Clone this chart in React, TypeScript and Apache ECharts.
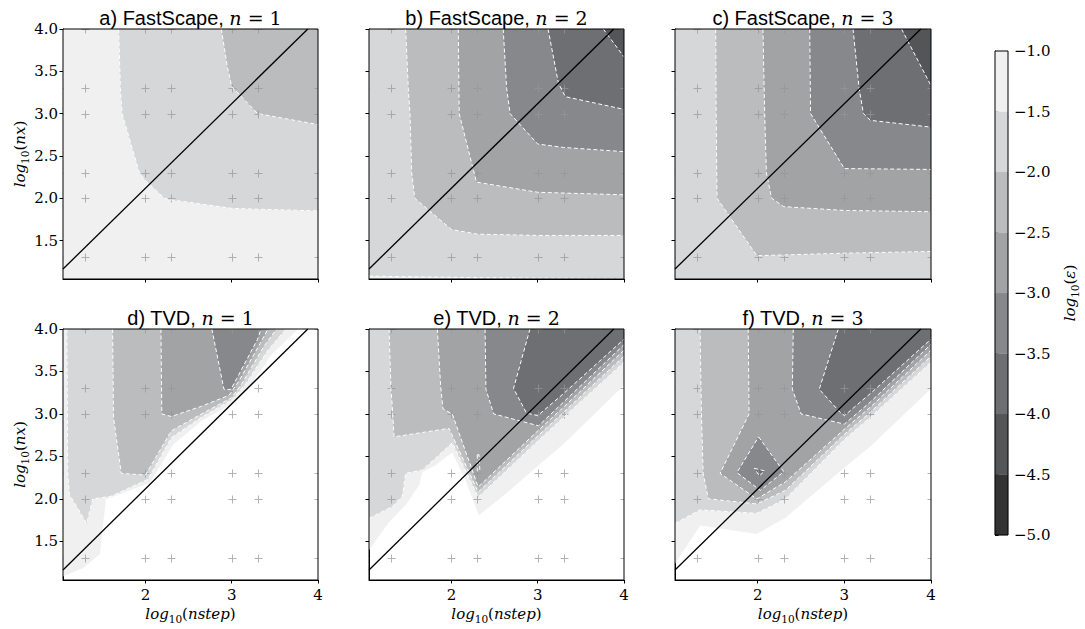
import React, { useEffect, useRef } from "react";
import * as echarts from "echarts";

type Pt = [number, number];

// ---------- axes ----------
const X_MIN = 1.045;
const X_MAX = 4.0;
const Y_MIN = 1.045;
const Y_MAX = 4.0;
const X_TICKS = [2, 3, 4];
const Y_TICKS = [1.5, 2.0, 2.5, 3.0, 3.5, 4.0];
// sampled runs: log10 of 10, 20, 100, 200, 1000, 2000, 10000
const SAMPLE_LOG = [1.0, 1.301, 2.0, 2.301, 3.0, 3.301, 4.0];
// reference line nx = 1.31 * nstep  (log offset)
const DIAG_OFFSET = 0.118;

// ---------- colour levels ----------
const LEVELS = [-5.0, -4.5, -4.0, -3.5, -3.0, -2.5, -2.0, -1.5, -1.0];
const BAND_COLORS = ["#333333", "#545557", "#6e6f72", "#87888b", "#a2a3a5", "#bbbcbd", "#d6d7d8", "#eff0ef"];

// ---------- contour lines (log10 nstep, log10 nx) ----------
// a) FastScape n=1
const FS1_L15: Pt[] = [[1.69, 4.0], [1.71, 3.3], [1.73, 3.0], [1.93, 2.3], [2.0, 2.21], [2.22, 2.0], [2.3, 1.98], [3.0, 1.88], [3.3, 1.87], [4.0, 1.85]];
const FS1_L20: Pt[] = [[2.88, 4.0], [2.95, 3.55], [3.0, 3.32], [3.3, 3.0], [4.0, 2.87]];
// b) FastScape n=2
const FS2_L15: Pt[] = [[1.045, 1.08], [1.3, 1.075], [2.0, 1.065], [3.0, 1.055], [4.0, 1.05]];
const FS2_L20: Pt[] = [[1.47, 4.0], [1.5, 3.3], [1.52, 3.0], [1.54, 2.3], [1.575, 2.0], [2.0, 1.63], [2.3, 1.575], [3.0, 1.56], [4.0, 1.56]];
const FS2_L25: Pt[] = [[2.08, 4.0], [2.09, 3.0], [2.29, 2.19], [3.0, 2.07], [4.0, 2.04]];
const FS2_L30: Pt[] = [[2.6, 4.0], [2.64, 3.3], [2.68, 3.0], [3.0, 2.64], [3.3, 2.6], [4.0, 2.55]];
const FS2_L35: Pt[] = [[3.12, 4.0], [3.24, 3.36], [3.32, 3.2], [4.0, 3.05]];
const FS2_L40: Pt[] = [[3.76, 4.0], [4.0, 3.67]];
// c) FastScape n=3
const FS3_L20: Pt[] = [[1.515, 4.0], [1.52, 3.0], [1.53, 2.0], [1.99, 1.32], [3.0, 1.35], [4.0, 1.37]];
const FS3_L25: Pt[] = [[2.06, 4.0], [2.08, 3.0], [2.1, 2.3], [2.16, 2.0], [2.3, 1.9], [3.0, 1.855], [4.0, 1.84]];
const FS3_L30: Pt[] = [[2.6, 4.0], [2.61, 3.0], [3.0, 2.35], [4.0, 2.34]];
const FS3_L35: Pt[] = [[3.1, 4.0], [3.17, 3.3], [3.22, 3.0], [3.3, 2.92], [4.0, 2.84]];
const FS3_L40: Pt[] = [[3.66, 4.0], [4.0, 3.33]];
// d) TVD n=1
const TVD1_L10: Pt[] = [[1.045, 1.09], [1.28, 1.19], [1.47, 1.35], [1.54, 2.0], [2.05, 2.19], [2.32, 2.64], [2.65, 2.92], [3.02, 3.13], [3.21, 3.33], [3.46, 3.7], [3.77, 4.0]];
const TVD1_L15: Pt[] = [[1.09, 4.0], [1.1, 2.3], [1.12, 2.05], [1.32, 1.71], [1.39, 2.0], [1.6, 2.03], [2.03, 2.23], [2.3, 2.72], [2.65, 2.96], [3.0, 3.165], [3.16, 3.35], [3.42, 3.75], [3.63, 4.0]];
const TVD1_L20: Pt[] = [[1.62, 4.0], [1.63, 2.96], [1.72, 2.3], [2.0, 2.28], [2.3, 2.8], [2.65, 3.0], [3.0, 3.19], [3.12, 3.36], [3.37, 3.79], [3.52, 4.0]];
const TVD1_L25: Pt[] = [[2.18, 4.0], [2.19, 3.0], [2.3, 2.97], [2.65, 3.09], [2.97, 3.22], [3.08, 3.38], [3.33, 3.83], [3.42, 4.0]];
const TVD1_L30: Pt[] = [[2.77, 4.0], [2.91, 3.29], [2.99, 3.285], [3.06, 3.42], [3.3, 3.88], [3.34, 4.0]];
// e) TVD n=2
const TVD2_L10: Pt[] = [[1.045, 1.4], [1.277, 1.73], [1.47, 1.93], [1.624, 2.16], [1.663, 2.32], [1.817, 2.4], [2.01, 2.55], [2.165, 2.22], [2.319, 1.81], [2.59, 2.03], [2.9, 2.3], [3.0, 2.39], [3.3, 2.65], [4.0, 3.34]];
const TVD2_L15: Pt[] = [[1.045, 1.77], [1.315, 1.91], [1.431, 2.03], [1.47, 2.3], [1.663, 2.34], [1.817, 2.48], [2.01, 2.66], [2.31, 2.02], [3.0, 2.68], [3.3, 2.96], [4.0, 3.61]];
const TVD2_L20: Pt[] = [[1.277, 4.0], [1.3, 3.3], [1.32, 3.0], [1.335, 2.73], [1.972, 2.83], [2.31, 2.08], [3.0, 2.74], [3.3, 3.02], [4.0, 3.68]];
const TVD2_L25: Pt[] = [[1.837, 4.0], [1.875, 3.33], [1.902, 3.06], [2.01, 3.0], [2.31, 2.14], [3.0, 2.8], [3.3, 3.08], [4.0, 3.75]];
const TVD2_L30: Pt[] = [[2.39, 4.0], [2.4, 3.29], [2.49, 3.0], [3.01, 2.86], [3.3, 3.14], [4.0, 3.815]];
const TVD2_L35: Pt[] = [[2.91, 4.0], [2.72, 3.3], [2.87, 3.01], [3.0, 2.98], [3.3, 3.24], [4.0, 3.88]];
const TVD2_SPIKE: Pt[] = [[2.3, 2.52], [2.32, 2.52], [2.33, 2.33], [2.3, 2.33]];
// f) TVD n=3
const TVD3_L10: Pt[] = [[1.045, 1.24], [1.334, 1.69], [1.99, 1.59], [2.32, 1.78], [3.0, 2.37], [3.3, 2.62], [4.0, 3.3]];
const TVD3_L15: Pt[] = [[1.045, 1.71], [1.334, 1.87], [1.99, 1.83], [2.32, 2.0], [3.0, 2.7], [3.3, 2.96], [4.0, 3.61]];
const TVD3_L20: Pt[] = [[1.334, 4.0], [1.35, 3.0], [1.37, 2.3], [1.43, 2.0], [1.99, 1.94], [2.32, 2.1], [3.0, 2.76], [3.3, 3.02], [4.0, 3.68]];
const TVD3_L25: Pt[] = [[1.89, 4.0], [1.9, 3.0], [1.565, 2.3], [1.99, 2.0], [2.32, 2.2], [3.0, 2.82], [3.3, 3.08], [4.0, 3.75]];
const TVD3_L30: Pt[] = [[2.41, 4.0], [2.4, 3.29], [2.5, 3.0], [3.0, 2.88], [3.3, 3.14], [4.0, 3.82]];
const TVD3_L30_ISLAND: Pt[] = [[2.01, 2.73], [2.3, 2.32], [2.03, 2.1], [1.76, 2.31]];
const TVD3_L35: Pt[] = [[2.93, 4.0], [2.71, 3.29], [2.95, 3.02], [3.0, 2.98], [3.3, 3.24], [4.0, 3.88]];
const TVD3_L35_ISLAND: Pt[] = [[1.96, 2.36], [2.08, 2.33], [2.02, 2.27]];

interface Contour {
  level: number;
  pts: Pt[];
  close?: Pt[];
  loop?: boolean;
  noLine?: boolean;
  noFill?: boolean;
}

const TR: Pt = [X_MAX, Y_MAX];
const TL: Pt = [X_MIN, Y_MAX];

const PANELS: { title: string; n: number; base: number | null; contours: Contour[] }[] = [
  {
    title: "a) FastScape", n: 1, base: -1.0,
    contours: [
      { level: -1.5, pts: FS1_L15, close: [TR] },
      { level: -2.0, pts: FS1_L20, close: [TR] },
    ],
  },
  {
    title: "b) FastScape", n: 2, base: -1.0,
    contours: [
      { level: -1.5, pts: FS2_L15, close: [TR, TL] },
      { level: -2.0, pts: FS2_L20, close: [TR] },
      { level: -2.5, pts: FS2_L25, close: [TR] },
      { level: -3.0, pts: FS2_L30, close: [TR] },
      { level: -3.5, pts: FS2_L35, close: [TR] },
      { level: -4.0, pts: FS2_L40, close: [TR] },
    ],
  },
  {
    title: "c) FastScape", n: 3, base: -1.5,
    contours: [
      { level: -2.0, pts: FS3_L20, close: [TR] },
      { level: -2.5, pts: FS3_L25, close: [TR] },
      { level: -3.0, pts: FS3_L30, close: [TR] },
      { level: -3.5, pts: FS3_L35, close: [TR] },
      { level: -4.0, pts: FS3_L40, close: [TR] },
    ],
  },
  {
    title: "d) TVD", n: 1, base: null,
    contours: [
      { level: -1.0, pts: TVD1_L10, close: [TL], noLine: true },
      { level: -1.5, pts: TVD1_L15 },
      { level: -2.0, pts: TVD1_L20 },
      { level: -2.5, pts: TVD1_L25 },
      { level: -3.0, pts: TVD1_L30 },
    ],
  },
  {
    title: "e) TVD", n: 2, base: null,
    contours: [
      { level: -1.0, pts: TVD2_L10, close: [TR, TL], noLine: true },
      { level: -1.5, pts: TVD2_L15, close: [TR, TL] },
      { level: -2.0, pts: TVD2_L20, close: [TR] },
      { level: -2.5, pts: TVD2_L25, close: [TR] },
      { level: -3.0, pts: TVD2_L30, close: [TR] },
      { level: -3.5, pts: TVD2_L35, close: [TR] },
      { level: -2.5, pts: TVD2_SPIKE, loop: true, noFill: true },
    ],
  },
  {
    title: "f) TVD", n: 3, base: null,
    contours: [
      { level: -1.0, pts: TVD3_L10, close: [TR, TL], noLine: true },
      { level: -1.5, pts: TVD3_L15, close: [TR, TL] },
      { level: -2.0, pts: TVD3_L20, close: [TR] },
      { level: -2.5, pts: TVD3_L25, close: [TR] },
      { level: -3.0, pts: TVD3_L30, close: [TR] },
      { level: -3.0, pts: TVD3_L30_ISLAND, loop: true },
      { level: -3.5, pts: TVD3_L35, close: [TR] },
      { level: -3.5, pts: TVD3_L35_ISLAND, loop: true },
    ],
  },
];

// ---------- layout ----------
const GRIDS = [
  { left: 63, top: 29, width: 255, height: 250 },
  { left: 369, top: 29, width: 255, height: 250 },
  { left: 675, top: 29, width: 256, height: 250 },
  { left: 63, top: 329, width: 255, height: 251 },
  { left: 369, top: 329, width: 255, height: 251 },
  { left: 675, top: 329, width: 256, height: 251 },
];
const CB_GRID = { left: 995, top: 51, width: 13, height: 484 };

const SERIF = "DejaVu Serif";
const SANS = "Liberation Sans";

const LOG_RICH = {
  i: { fontFamily: SERIF, fontStyle: "italic", fontSize: 15, lineHeight: 20, color: "#000" },
  r: { fontFamily: SERIF, fontSize: 15, lineHeight: 20, color: "#000" },
  s: { fontFamily: SERIF, fontSize: 10.5, lineHeight: 13, verticalAlign: "bottom", color: "#000" },
};
const TITLE_RICH = {
  s: { fontFamily: SANS, fontSize: 20, lineHeight: 24, color: "#000" },
  i: { fontFamily: SERIF, fontStyle: "italic", fontSize: 19, lineHeight: 24, color: "#000" },
  m: { fontFamily: SERIF, fontSize: 19, lineHeight: 24, color: "#000" },
};

function bandColor(level: number) {
  const idx = Math.round((level - LEVELS[0]) / 0.5) - 1;
  return BAND_COLORS[idx];
}

function fmtMinus(v: number) {
  return (v < 0 ? "\u2212" : "") + Math.abs(v).toFixed(1);
}

function buildOption() {
  const grid: any[] = GRIDS.map((g) => ({
    ...g,
    show: true,
    borderColor: "#000",
    borderWidth: 1,
    backgroundColor: "transparent",
    z: 10,
  }));
  grid.push({ ...CB_GRID, show: true, borderColor: "#000", borderWidth: 1, backgroundColor: "transparent", z: 10 });

  const xAxis: any[] = GRIDS.map((_, i) => ({
    type: "value",
    gridIndex: i,
    min: X_MIN,
    max: X_MAX,
    axisLine: { show: true, lineStyle: { color: "#000", width: 1 } },
    axisTick: { show: true, customValues: X_TICKS, length: 3.5, lineStyle: { color: "#000", width: 1 } },
    axisLabel: {
      show: i >= 3,
      customValues: X_TICKS,
      formatter: (v: number) => String(v),
      fontFamily: SERIF,
      fontSize: 15,
      color: "#000",
      margin: 7,
    },
    splitLine: { show: false },
    name: i >= 3 ? "{i|log}{s|10}{r|(}{i|nstep}{r|)}" : "",
    nameLocation: "middle",
    nameGap: 24,
    nameTextStyle: { rich: LOG_RICH },
  }));
  xAxis.push({ type: "value", gridIndex: 6, min: 0, max: 1, show: false });

  const yAxis: any[] = GRIDS.map((_, i) => ({
    type: "value",
    gridIndex: i,
    min: Y_MIN,
    max: Y_MAX,
    axisLine: { show: true, lineStyle: { color: "#000", width: 1 } },
    axisTick: { show: true, customValues: Y_TICKS, length: 3.5, lineStyle: { color: "#000", width: 1 } },
    axisLabel: {
      show: i === 0 || i === 3,
      customValues: Y_TICKS,
      formatter: (v: number) => v.toFixed(1),
      fontFamily: SERIF,
      fontSize: 15,
      color: "#000",
      margin: 5,
    },
    splitLine: { show: false },
    name: i === 0 || i === 3 ? "{i|log}{s|10}{r|(}{i|nx}{r|)}" : "",
    nameLocation: "middle",
    nameRotate: 90,
    nameGap: 31,
    nameTextStyle: { rich: LOG_RICH },
  }));
  yAxis.push({
    type: "value",
    gridIndex: 6,
    min: LEVELS[0],
    max: LEVELS[LEVELS.length - 1],
    interval: 0.5,
    position: "right",
    axisLine: { show: true, lineStyle: { color: "#000", width: 1 } },
    axisTick: { show: true, length: 3.5, lineStyle: { color: "#000", width: 1 } },
    axisLabel: { formatter: fmtMinus, fontFamily: SERIF, fontSize: 15, color: "#000", margin: 6 },
    splitLine: { show: false },
    name: "{i|log}{s|10}{r|(}{i|\u03b5}{r|)}",
    nameLocation: "middle",
    nameRotate: 90,
    nameGap: 52,
    nameTextStyle: { rich: LOG_RICH },
  });

  const series: any[] = [];
  const markerPts: Pt[] = [];
  SAMPLE_LOG.forEach((x) => SAMPLE_LOG.forEach((y) => markerPts.push([x, y])));

  PANELS.forEach((p, pi) => {
    const fills: { poly: Pt[]; color: string }[] = [];
    if (p.base !== null) {
      fills.push({ poly: [[X_MIN, Y_MIN], [X_MAX, Y_MIN], [X_MAX, Y_MAX], [X_MIN, Y_MAX]], color: bandColor(p.base) });
    }
    p.contours.forEach((c) => {
      if (!c.noFill) fills.push({ poly: c.pts.concat(c.close || []), color: bandColor(c.level) });
    });
    series.push({
      type: "custom",
      xAxisIndex: pi,
      yAxisIndex: pi,
      z: 1,
      clip: true,
      silent: true,
      data: fills.map(() => [X_MIN, Y_MIN]),
      renderItem: (params: any, api: any) => {
        const it = fills[params.dataIndex];
        return {
          type: "polygon",
          shape: { points: it.poly.map((q) => api.coord(q)) },
          style: { fill: it.color, stroke: it.color, lineWidth: 0.4 },
        };
      },
    });

    // grid sample markers
    series.push({
      type: "custom",
      xAxisIndex: pi,
      yAxisIndex: pi,
      z: 2,
      clip: true,
      silent: true,
      data: markerPts,
      renderItem: (params: any, api: any) => {
        const c = api.coord([api.value(0), api.value(1)]);
        const cx = Math.round(c[0]) + 0.5;
        const cy = Math.round(c[1]) + 0.5;
        const st = { stroke: "rgba(150,150,150,0.72)", lineWidth: 1, fill: "none" };
        return {
          type: "group",
          children: [
            { type: "line", shape: { x1: cx - 4, y1: cy, x2: cx + 4, y2: cy }, style: st },
            { type: "line", shape: { x1: cx, y1: cy - 4, x2: cx, y2: cy - 0.5 }, style: st },
            { type: "line", shape: { x1: cx, y1: cy + 0.5, x2: cx, y2: cy + 4 }, style: st },
          ],
        };
      },
    });

    const lines = p.contours.filter((c) => !c.noLine);
    series.push({
      type: "custom",
      xAxisIndex: pi,
      yAxisIndex: pi,
      z: 3,
      clip: true,
      silent: true,
      data: lines.map(() => [X_MIN, Y_MIN]),
      renderItem: (params: any, api: any) => {
        const c = lines[params.dataIndex];
        const pts = (c.loop ? c.pts.concat([c.pts[0]]) : c.pts).map((q) => api.coord(q));
        return {
          type: "polyline",
          shape: { points: pts },
          style: { stroke: "#ffffff", lineWidth: 1, lineDash: [4, 2.5], fill: "none" },
        };
      },
    });

    series.push({
      type: "line",
      xAxisIndex: pi,
      yAxisIndex: pi,
      z: 5,
      silent: true,
      symbol: "none",
      lineStyle: { color: "#000", width: 1.3 },
      data: [
        [X_MIN, X_MIN + DIAG_OFFSET],
        [Y_MAX - DIAG_OFFSET, Y_MAX],
      ],
    });
  });

  // colour bar
  const bands = BAND_COLORS.map((c, i) => ({ lo: LEVELS[i], hi: LEVELS[i + 1], color: c }));
  series.push({
    type: "custom",
    xAxisIndex: 6,
    yAxisIndex: 6,
    z: 1,
    silent: true,
    data: bands.map((b) => [0, b.lo]),
    renderItem: (params: any, api: any) => {
      const b = bands[params.dataIndex];
      const p1 = api.coord([0, b.hi]);
      const p2 = api.coord([1, b.lo]);
      return {
        type: "rect",
        shape: { x: p1[0], y: p1[1], width: p2[0] - p1[0], height: p2[1] - p1[1] },
        style: { fill: b.color, stroke: b.color, lineWidth: 0.3 },
      };
    },
  });

  const graphic = PANELS.map((p, i) => {
    const g = GRIDS[i];
    return {
      type: "text",
      x: g.left + g.width / 2,
      y: g.top + 1,
      z: 20,
      style: {
        text: `{s|${p.title}, }{i|n}{m| = ${p.n}}`,
        rich: TITLE_RICH,
        align: "center",
        verticalAlign: "bottom",
        textAlign: "center",
        textVerticalAlign: "bottom",
      },
    };
  });

  return {
    animation: false,
    backgroundColor: "#ffffff",
    grid,
    xAxis,
    yAxis,
    series,
    graphic,
  };
}

export default function App() {
  const ref = useRef<HTMLDivElement>(null);
  useEffect(() => {
    const chart = echarts.init(ref.current as HTMLDivElement, null, { renderer: "svg" });
    chart.setOption(buildOption() as any);
    return () => chart.dispose();
  }, []);
  return (
    <div
      ref={ref}
      style={{ position: "absolute", left: 0, top: 0, width: 1085, height: 629, background: "#fff" }}
    />
  );
}
